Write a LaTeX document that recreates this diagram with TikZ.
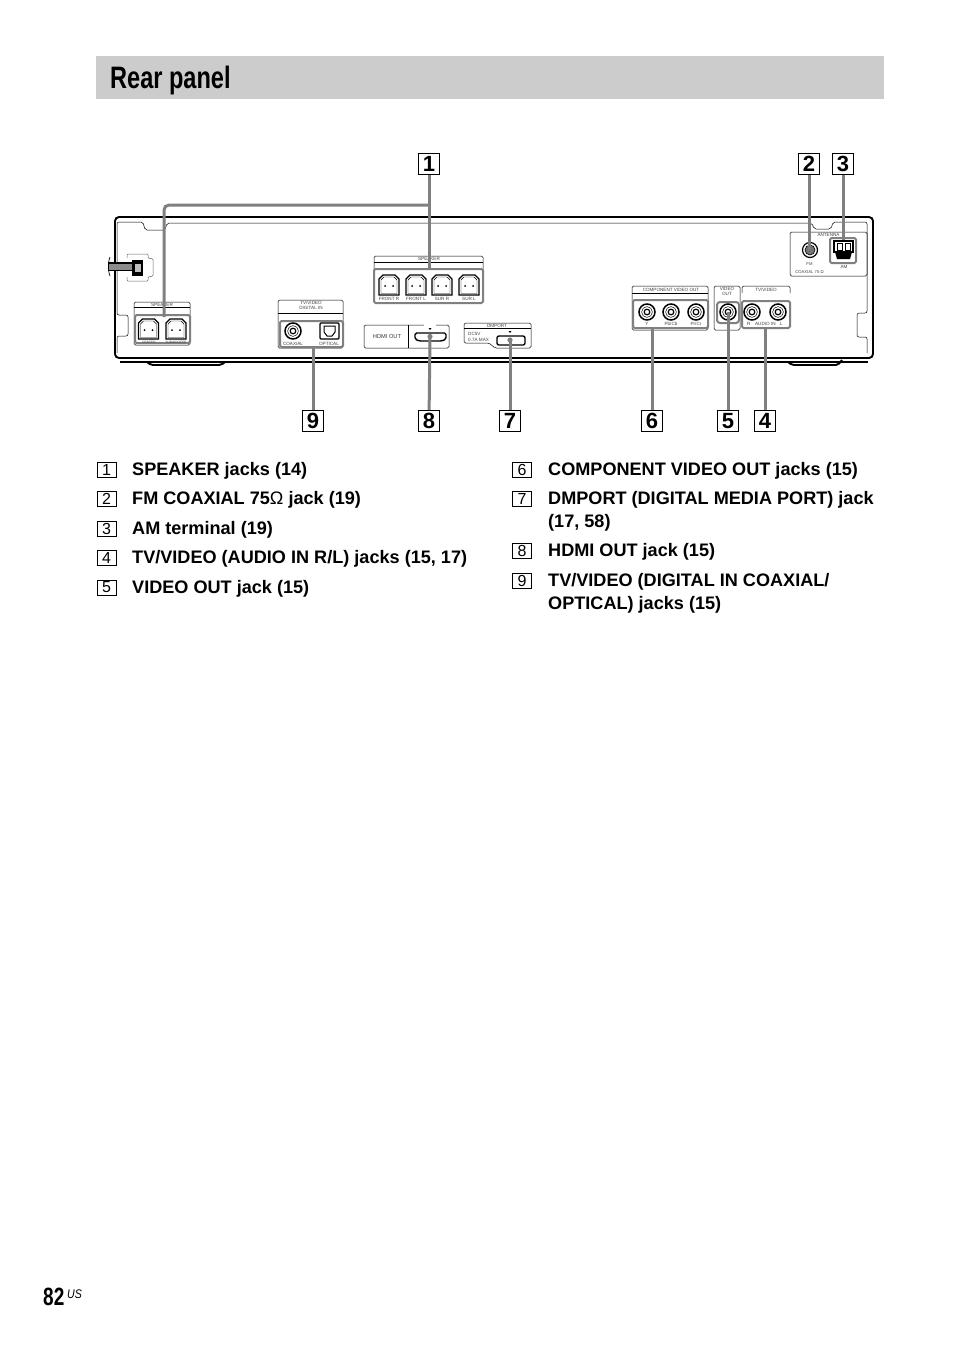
\documentclass[tikz,border=0pt]{standalone}
\usepackage{fontspec}
\setmainfont{Liberation Sans}
\newfontfamily\narrowbold[FakeStretch=0.76]{Liberation Sans Bold}
\newfontfamily\narrowital[FakeStretch=0.85]{Liberation Sans Italic}
\usetikzlibrary{calc,positioning}
\definecolor{titlegray}{HTML}{CCCCCC}
\definecolor{leadgray}{HTML}{808080}
\tikzset{
	callout/.style={draw, line width=1pt, minimum width=21pt, minimum height=21pt, inner sep=0pt, font=\fontsize{22}{22}\selectfont\bfseries},
	numbox/.style={draw, line width=0.6pt, minimum width=19pt, minimum height=15pt, inner sep=0pt, font=\fontsize{16}{16}\selectfont},
	itemtext/.style={anchor=base west, inner sep=0pt, align=left, font=\fontsize{18.1}{23}\selectfont\bfseries},
	tinytext/.style={inner sep=0pt, text=black!75, font=\fontsize{4.6}{5.6}\selectfont, align=center},
	panel/.style={draw, line width=0.5pt, rounded corners=1.5pt},
	graybox/.style={draw=leadgray, line width=2pt, rounded corners=1.5pt},
	lead/.style={draw=leadgray, line width=3pt},
}
% one RCA socket
\newcommand{\rcajack}[3]{
	\coordinate (#3) at (#1,#2);
	\draw [line width=1.5pt] (#3) circle (8);
	\draw [line width=0.5pt] (#3) circle (5.4);
	\draw [line width=1.2pt] (#3) circle (2.8);
}
% one speaker socket
\newcommand{\spkjack}[2]{
	\begin{scope}[shift={(#1,#2)}]
		\draw [line width=1.3pt] (-10,10) -- (-10,-6) -- (-6,-10) -- (6,-10) -- (10,-6) -- (10,10) -- cycle;
		\draw [line width=0.4pt] (-8,8.5) -- (-8,-5) -- (-5,-8) -- (5,-8) -- (8,-5) -- (8,8.5) -- cycle;
		\fill (-4,1) circle (1);
		\fill (4,1) circle (1);
	\end{scope}
}
\begin{document}
\begin{tikzpicture}[x=1pt,y=-1pt]
	\useasboundingbox (0,0) rectangle (954,1352);
	% title
	\fill [titlegray] (96,56) rectangle (884,99);
	\node [anchor=base west, inner sep=0pt, font=\fontsize{31}{31}\narrowbold] (title) at (110,88) {Rear panel};
	% case of the unit
	\draw [line width=1.9pt, rounded corners=4pt] (115,358) -- (115,217) -- (873,217) -- (873,358) -- cycle;
	\draw [line width=1.9pt] (120,362) -- (868,362);
	\draw [line width=1.9pt, rounded corners=2pt] (147,362) -- (151,365) -- (221,365) -- (225,362);
	\draw [line width=1.9pt, rounded corners=2pt] (788,362) -- (792,365) -- (838,365) -- (842,360);
	\draw [line width=0.5pt, rounded corners=2pt] (117,353) -- (117,336) -- (128,336) -- (128,315) -- (117,315) -- (117,222) -- (143,222) -- (145,230) -- (165,230) -- (167,223) -- (812,223) -- (814,229) -- (831,229) -- (833,222) -- (867,222) -- (867,313) -- (857,313) -- (857,337) -- (867,337) -- (867,353);
	% power cord
	\draw [line width=0.5pt, black!60, rounded corners=1pt] (127,258) -- (127,254) -- (148,254) -- (148,258) -- (153,259) -- (153,276) -- (148,277) -- (148,281) -- (127,281) -- (127,277);
	\fill [black!45] (108,263) rectangle (133,271);
	\draw [line width=1.2pt] (108,263) -- (133,263) (108,270.5) -- (133,270.5);
	\fill (132,260) rectangle (143,276);
	\fill [black!25] (135,264) rectangle (141,272);
	\draw [line width=0.7pt] (110,257) .. controls (108,261) and (108,272) .. (110,276);
	% speaker left
	\draw [panel] (134,345) -- (134,302) -- (190,302) -- (190,345) -- cycle;
	\node [tinytext] (spkA) at (162,304.5) {SPEAKER};
	\draw [line width=0.4pt] (134,307) -- (190,307);
	\draw [graybox] (135,315) rectangle (190,343);
	\spkjack{148.5}{329}
	\spkjack{176}{329}
	\node [tinytext, font=\fontsize{3.2}{4}\selectfont] (spkB) at (149,342) {CENTER};
	\node [tinytext, font=\fontsize{3.2}{4}\selectfont] (spkC) at (176,342) {SUBWOOFER};
	\coordinate (spkleft) at (164,317);
	% digital in
	\draw [panel] (278,348) -- (278,300) -- (343,300) -- (343,348) -- cycle;
	\node [tinytext] (digA) at (311,305.5) {TV/VIDEO\\DIGITAL IN};
	\draw [line width=0.4pt] (278,313) -- (343,313);
	\draw [graybox] (280,321) rectangle (343,347);
	\rcajack{293}{331}{coax}
	\draw [line width=1.4pt, rounded corners=1pt] (320,323) rectangle (339,339);
	\draw [line width=1pt, fill=white] (324,326) -- (335,326) -- (335,332) -- (332,336) -- (327,336) -- (324,332) -- cycle;
	\node [tinytext] (digB) at (293,344) {COAXIAL};
	\node [tinytext] (digC) at (329,344) {OPTICAL};
	\coordinate (digital) at (313,347);
	% speaker center
	\draw [panel] (374,303) -- (374,256) -- (483,256) -- (483,303) -- cycle;
	\node [tinytext] (spkD) at (429,259) {SPEAKER};
	\draw [line width=0.4pt] (374,262) -- (483,262);
	\draw [graybox] (374,269) rectangle (483,303);
	\foreach \jx/\jlab in {389/FRONT R,416/FRONT L,442/SUR R,469/SUR L}{
		\spkjack{\jx}{285}
		\node [tinytext, inner sep=0pt] at (\jx,298.5) {\jlab};
	}
	\coordinate (spkmain) at (429,269);
	% hdmi
	\draw [panel] (424,325) -- (364,325) -- (364,348) -- (449,348) -- (449,325) -- (436,325);
	\draw [line width=0.5pt] (408,325) -- (408,348);
	\node [inner sep=0pt, text=black!80, font=\fontsize{5.7}{5.7}\selectfont] (hdmilab) at (387,336.5) {HDMI OUT};
	\fill (428.5,328) -- (431.5,328) -- (430,330) -- cycle;
	\draw [line width=1.4pt, rounded corners=1.5pt] (415,333) -- (446,333) -- (446,339) -- (442,341) -- (419,341) -- (415,339) -- cycle;
	\coordinate (hdmi) at (430,336.5);
	% dmport
	\draw [panel] (464,343) -- (464,323) -- (531,323) -- (531,348) -- (495,348) -- (489,343) -- cycle;
	\draw [line width=0.4pt] (464,328) -- (531,328);
	\node [tinytext] (dmlab) at (497,325.7) {DMPORT};
	\node [tinytext, anchor=west, align=left] (dmspec) at (468,337) {DC5V\\0.7A MAX};
	\fill (508.5,331) -- (511.5,331) -- (510,333) -- cycle;
	\draw [line width=1.4pt, rounded corners=2pt] (497,336) rectangle (525,345);
	\coordinate (dmport) at (510,340);
	% component video
	\draw [panel] (632,330) -- (632,286) -- (708,286) -- (708,330) -- cycle;
	\node [tinytext] (compA) at (671,289.5) {COMPONENT VIDEO OUT};
	\draw [line width=0.4pt] (632,293) -- (708,293);
	\draw [graybox] (633,300) rectangle (708,328);
	\rcajack{647}{312}{compY}
	\rcajack{671}{312}{compB}
	\rcajack{696}{312}{compR}
	\node [tinytext] (compC) at (647,323.5) {Y};
	\node [tinytext] (compD) at (671,323.5) {Pb/Cb};
	\node [tinytext] (compE) at (696,323.5) {Pr/Cr};
	\coordinate (comp) at (652,328);
	% video out
	\draw [panel] (714,330) -- (714,286) -- (740,286) -- (740,330) -- cycle;
	\node [tinytext] (vidA) at (727,291.5) {VIDEO\\OUT};
	\draw [graybox, rounded corners=3pt] (717,302) rectangle (739,323);
	\rcajack{728}{312}{vidjack}
	% tv/video
	\draw [panel] (742,293) -- (742,286) -- (790,286) -- (790,293);
	\node [tinytext] (tvA) at (766,289.5) {TV/VIDEO};
	\draw [graybox] (742,301) rectangle (790,328);
	\rcajack{752}{312}{tvR}
	\rcajack{778}{312}{tvL}
	\node [tinytext] (tvB) at (765,323.5) {R\quad AUDIO IN\quad L};
	\coordinate (tvvid) at (765,328);
	% antenna
	\draw [panel] (790,276) -- (790,232) -- (867,232) -- (867,276) -- cycle;
	\node [tinytext] (antA) at (828.5,235) {ANTENNA};
	\draw [line width=1.2pt] (810,250) circle (7.5);
	\draw [line width=0.6pt, fill=black!55] (810,250) circle (5);
	\node [tinytext, font=\fontsize{4.2}{7.5}\selectfont] (antB) at (809.5,268) {FM\\COAXIAL 75 Ω};
	\draw [graybox] (830,238) rectangle (856,263);
	\draw [line width=1.2pt] (834,241) rectangle (853,252);
	\draw [line width=0.6pt] (837,243) rectangle (842,250);
	\draw [line width=0.6pt] (845,243) rectangle (850,250);
	\fill (835,252) -- (852,252) -- (850,259) -- (837,259) -- cycle;
	\node [tinytext] (antC) at (844,266.5) {AM};
	\coordinate (fmjack) at (809,250);
	\coordinate (amterm) at (843,240);
	% callouts
	\node [callout] (call1) at (429,164) {1};
	\node [callout] (call2) at (809,164) {2};
	\node [callout] (call3) at (843,164) {3};
	\node [callout] (call4) at (765,421) {4};
	\node [callout] (call5) at (728,421) {5};
	\node [callout] (call6) at (652,421) {6};
	\node [callout] (call7) at (510,421) {7};
	\node [callout] (call8) at (429,421) {8};
	\node [callout] (call9) at (313,421) {9};
	% leader lines
	\draw [lead] (call1) -- (spkmain);
	\draw [lead, rounded corners=5pt] (429,205) -- (164,205) -- (spkleft);
	\draw [lead] (call2) -- (fmjack);
	\draw [lead] (call3) -- (amterm);
	\draw [lead] (call4) -- (tvvid);
	\draw [lead] (call5) -- (vidjack);
	\draw [lead] (call6) -- (comp);
	\draw [lead] (call7) -- (dmport);
	\fill [leadgray] (dmport) circle (2.6);
	\draw [lead] (call8) -- (hdmi);
	\fill [leadgray] (hdmi) circle (2.6);
	\draw [lead] (call9) -- (digital);
	% legend
	\foreach \ny/\nnum/\ntext in {469.5/1/{SPEAKER jacks (14)},499/2/{FM COAXIAL 75{\mdseries Ω} jack (19)},528.5/3/{AM terminal (19)},558/4/{TV/VIDEO (AUDIO IN R/L) jacks (15, 17)},587.5/5/{VIDEO OUT jack (15)}}{
		\node [numbox] (num\nnum) at (106.5,\ny) {\nnum};
		\node [itemtext] (item\nnum) at (132,\ny+5.8) {\ntext};
	}
	\node [numbox] (num6) at (522,469.5) {6};
	\node [itemtext] (item6) at (548,475.3) {COMPONENT VIDEO OUT jacks (15)};
	\node [numbox] (num7) at (522,499) {7};
	\node [itemtext] (item7) at (548,527.8) {DMPORT (DIGITAL MEDIA PORT) jack\\(17, 58)};
	\node [numbox] (num8) at (522,551) {8};
	\node [itemtext] (item8) at (548,556.8) {HDMI OUT jack (15)};
	\node [numbox] (num9) at (522,580.5) {9};
	\node [itemtext] (item9) at (548,609.3) {TV/VIDEO (DIGITAL IN COAXIAL/\\OPTICAL) jacks (15)};
	% page number
	\node [anchor=base west, inner sep=0pt, font=\fontsize{25}{25}\narrowbold] (pagenum) at (43,1305) {82};
	\node [anchor=base west, inner sep=0pt, font=\fontsize{12.5}{12.5}\narrowital] (pageus) at (67,1298) {US};
\end{tikzpicture}
\end{document}
